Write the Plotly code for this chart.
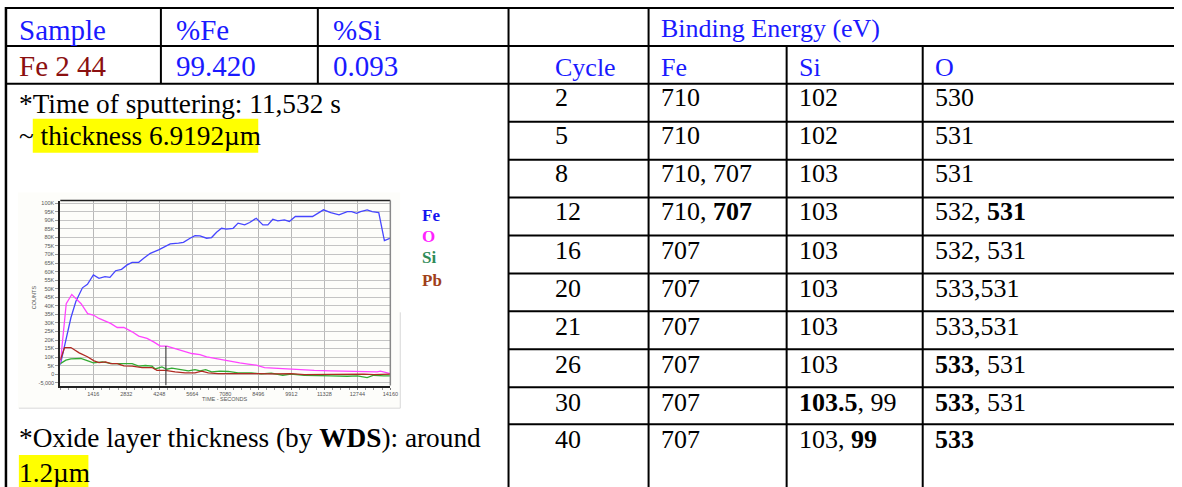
import plotly.graph_objects as go

W, H = 1182, 487

# ---------------- chart data (read from the embedded depth profile) ----------------
fe_time = [0, 240, 455, 667, 950, 1165, 1420, 1660, 1917, 2130, 2372, 2627, 2869, 3082, 3366,
           3579, 3863, 4218, 4502, 4715, 5070, 5283, 5567, 5780, 5993, 6278, 6491, 6704, 6917,
           7130, 7414, 7627, 7911, 8124, 8408, 8692, 8905, 9118, 9331, 9615, 9828, 10084, 10822,
           11291, 11604, 11958, 12313, 12498, 12711, 12882, 13166, 13379, 13663, 13905, 14160]
fe_counts = [5500, 19500, 33000, 42500, 50500, 52500, 58000, 56000, 57000, 56600, 60500, 61300,
             63900, 65400, 65400, 67800, 70700, 72700, 74600, 76200, 76600, 77100, 79500, 81000,
             80900, 79500, 79900, 83000, 85300, 84800, 85300, 88300, 87300, 88700, 91200, 87300,
             87300, 90600, 89600, 90200, 89300, 92200, 92200, 96100, 94500, 93200, 95100, 95100,
             94100, 95100, 96100, 95100, 94500, 78100, 79500]

o_time = [0, 255, 493, 667, 893, 1174, 1420, 1660, 1917, 2159, 2443, 2727, 3082, 3366, 3721, 4005,
          4289, 4573, 4928, 5283, 5638, 5993, 6278, 6633, 6988, 7343, 7698, 8053, 8408, 8763,
          9473, 10183, 10893, 11604, 12313, 13024, 13592, 13734, 14160]
o_counts = [6000, 41200, 46600, 44300, 41200, 35400, 34600, 32600, 31200, 29700, 27300, 27300,
            24800, 22300, 20900, 18900, 16400, 16400, 15000, 13500, 12100, 11500, 10200, 9200,
            8200, 7200, 6600, 5900, 5300, 3900, 3300, 2700, 2300, 2000, 1800, 1400, 1400, 1800, 400]

si_time = [0, 241, 455, 880, 1094, 1420, 1804, 2230, 2656, 3082, 3366, 3650, 3934, 4076, 4360,
           4573, 4786, 5141, 5496, 5780, 5993, 6235, 6491, 6846, 7201, 7627, 8195, 8621, 9047,
           9544, 9899, 10467, 11035, 11604, 12313, 12740, 13166, 13450, 13876, 14160]
si_counts = [6200, 8200, 9000, 9200, 8200, 6600, 7200, 6200, 6200, 6200, 4700, 5100, 4700, 3100,
             4300, 2900, 3500, 2700, 2000, 2700, 2000, 2700, 1400, 1800, 1600, 800, 800, 200, 600,
             -600, 0, -600, -1000, -1000, -1200, -1000, -2000, -600, -1000, -1000]

pb_time = [0, 183, 455, 810, 1165, 1449, 1660, 1946, 2159, 2443, 2727, 3082, 3508, 3934, 4147,
           4502, 4928, 5354, 5780, 6065, 6349, 6775, 7343, 7911, 8479, 9189, 9899, 10467, 11291,
           12143, 13024, 13450, 14160]
pb_counts = [8200, 15600, 15600, 12500, 10200, 7800, 6800, 7200, 6200, 6200, 4900, 4700, 3900,
             3900, 2300, 2300, 1400, 800, 800, 1800, 800, 400, 400, 200, 400, 200, 400, -200, 0,
             -200, 0, -200, 0]

series_names = ["Fe", "O", "Si", "Pb"]
line_colors = ["#4646ff", "#ff44ff", "#33aa33", "#b02a22"]
legend_colors = ["#1414f0", "#ff22ff", "#2e8b57", "#a0401a"]

x_ticks = [1416, 2832, 4248, 5664, 7080, 8496, 9912, 11328, 12744, 14160]
y_tickvals = [-5000, 0, 5000, 10000, 15000, 20000, 25000, 30000, 35000, 40000, 45000, 50000,
              55000, 60000, 65000, 70000, 75000, 80000, 85000, 90000, 95000, 100000]
y_ticktext = ["-5,000", "0", "5K", "10K", "15K", "20K", "25K", "30K", "35K", "40K", "45K", "50K",
              "55K", "60K", "65K", "70K", "75K", "80K", "85K", "90K", "95K", "100K"]
marker_time = 4530
marker_top = 16500

# ---------------- table data ----------------
left_header = ["Sample", "%Fe", "%Si"]
left_values = ["Fe 2 44", "99.420", "0.093"]
note_lines = ["*Time of sputtering: 11,532 s", "~ thickness 6.9192µm",
              "*Oxide layer thickness (by <b>WDS</b>): around", "1.2µm"]
be_title = "Binding Energy (eV)"
right_header = ["Cycle", "Fe", "Si", "O"]
cycles = ["2", "5", "8", "12", "16", "20", "21", "26", "30", "40"]
fe_be = ["710", "710", "710, 707", "710, <b>707</b>", "707", "707", "707", "707", "707", "707"]
si_be = ["102", "102", "103", "103", "103", "103", "103", "103", "<b>103.5</b>, 99", "103, <b>99</b>"]
o_be = ["530", "531", "531", "532, <b>531</b>", "532, 531", "533,531", "533,531",
        "<b>533</b>, 531", "<b>533</b>, 531", "<b>533</b>"]


def px(x):
    return x / W


def py(y):
    return 1 - y / H


SERIF = "Liberation Serif, Times New Roman, serif"
SANS = "Liberation Sans, Arial, sans-serif"

fig = go.Figure()

for t, c, name, col in zip([fe_time, o_time, si_time, pb_time],
                           [fe_counts, o_counts, si_counts, pb_counts],
                           series_names, line_colors):
    fig.add_trace(go.Scatter(x=t, y=c, mode="lines", name=name,
                             line=dict(color=col, width=1.3), showlegend=False,
                             hoverinfo="skip"))

shapes = []
annotations = []


def hline(x0, x1, y, w=2, color="black"):
    shapes.append(dict(type="line", xref="paper", yref="paper", x0=px(x0), x1=px(x1),
                       y0=py(y), y1=py(y), line=dict(color=color, width=w)))


def vline(x, y0, y1, w=2, color="black"):
    shapes.append(dict(type="line", xref="paper", yref="paper", x0=px(x), x1=px(x),
                       y0=py(y0), y1=py(y1), line=dict(color=color, width=w)))


def rect(x0, y0, x1, y1, fill, line=None, layer="below"):
    shapes.append(dict(type="rect", xref="paper", yref="paper", x0=px(x0), x1=px(x1),
                       y0=py(y0), y1=py(y1), fillcolor=fill,
                       line=dict(width=0) if line is None else line, layer=layer))


def text(x, baseline, s, size, color="black", family=SERIF, anchor="left"):
    annotations.append(dict(xref="paper", yref="paper", x=px(x), y=py(baseline - 0.34 * size),
                            text=s, showarrow=False, xanchor=anchor, yanchor="middle",
                            font=dict(family=family, size=size, color=color),
                            borderpad=0, borderwidth=0))


# chart picture background
rect(18, 192, 403, 408, "#fdfdfa")
vline(403, 312, 408, w=1, color="#d8d8d8")
hline(19, 403, 408, w=1, color="#d8d8d8")

# highlights
rect(33, 118, 260, 152, "#ffff00")
rect(19, 455, 89, 487, "#ffff00")

# table grid
vline(6, 6, 487, w=2.5)
hline(6, 1182, 7)
hline(6, 1182, 45)
hline(6, 1182, 83)
vline(162, 7, 83)
vline(320, 7, 83)
vline(512, 7, 487)
vline(653, 7, 487)
vline(792, 45, 487)
vline(929, 45, 487)
row_lines = [121, 159, 197, 235, 273, 311, 349, 387, 424]
for yy in row_lines:
    hline(512, 1182, yy)

# left table text
left_cols = [19, 177, 335]
for xx, s in zip(left_cols, left_header):
    text(xx, 39, s, 29, color="#1a1aff")
for i, (xx, s) in enumerate(zip(left_cols, left_values)):
    text(xx, 75, s, 29, color="#8b1010" if i == 0 else "#1a1aff")
text(19, 112, note_lines[0], 27.3)
text(19, 145, note_lines[1], 27.3)
text(19, 447, note_lines[2], 27.3)
text(19, 482, note_lines[3], 27.3)

# right table text
text(666, 36, be_title, 26, color="#1a1aff")
right_cols = [559, 666, 804, 941]
for xx, s in zip(right_cols, right_header):
    text(xx, 75, s, 26, color="#1a1aff")
row_base = [106, 144, 182, 220, 259, 297, 335, 373, 411, 448]
for b, cyc, f, s, o in zip(row_base, cycles, fe_be, si_be, o_be):
    for xx, v in zip(right_cols, [cyc, f, s, o]):
        text(xx, b, v, 26)

# chart legend text
legend_base = [221, 242, 263, 286]
for b, name, col in zip(legend_base, series_names, legend_colors):
    text(425, b, "<b>" + name + "</b>", 17, color=col)

# chart axis titles
annotations.append(dict(xref="paper", yref="paper", x=px(35), y=py(297), text="COUNTS",
                        textangle=-90, showarrow=False, xanchor="center", yanchor="middle",
                        font=dict(family=SANS, size=5.5, color="#555555")))
annotations.append(dict(xref="paper", yref="paper", x=px(227), y=py(399), text="TIME - SECONDS",
                        showarrow=False, xanchor="center", yanchor="middle",
                        font=dict(family=SANS, size=5.5, color="#555555")))

# plot frame top / right
shapes.append(dict(type="line", xref="paper", yref="paper", x0=px(60.7), x1=px(393),
                   y0=py(200), y1=py(200), line=dict(color="#222222", width=1.5)))
shapes.append(dict(type="line", xref="paper", yref="paper", x0=px(393), x1=px(393),
                   y0=py(200), y1=py(385.3), line=dict(color="#888888", width=1.5)))
# marker line in the profile
shapes.append(dict(type="line", xref="x", yref="y", x0=marker_time, x1=marker_time,
                   y0=marker_top, y1=-6600, line=dict(color="#444444", width=1.2)))

fig.update_layout(
    width=W, height=H, margin=dict(l=0, r=0, t=0, b=0),
    paper_bgcolor="white", plot_bgcolor="white",
    shapes=shapes, annotations=annotations, showlegend=False,
    xaxis=dict(domain=[px(60.7), px(393)], range=[0, 14160], tickvals=x_ticks,
               ticktext=[str(v) for v in x_ticks], showgrid=True, gridcolor="#b8b8b8",
               gridwidth=1.3, zeroline=False, showline=True, linecolor="#222222", linewidth=2,
               ticks="outside", ticklen=2, tickcolor="#777777",
               tickfont=dict(family=SANS, size=5.5, color="#555555"),
               minor=dict(dtick=354, ticks="outside", ticklen=2, tickcolor="#999999",
                          showgrid=False)),
    yaxis=dict(domain=[py(385.3), py(200)], range=[-6600, 101500], tickvals=y_tickvals,
               ticktext=y_ticktext, showgrid=True, gridcolor="#c4c4c4", gridwidth=1.3,
               zeroline=False, showline=True, linecolor="#222222", linewidth=2,
               ticks="outside", ticklen=3, tickcolor="#999999",
               tickfont=dict(family=SANS, size=5.5, color="#555555")),
)

fig.write_html("out.html", config={"displayModeBar": False},
               post_script="document.body.style.margin='0';document.body.style.overflow='hidden';")
